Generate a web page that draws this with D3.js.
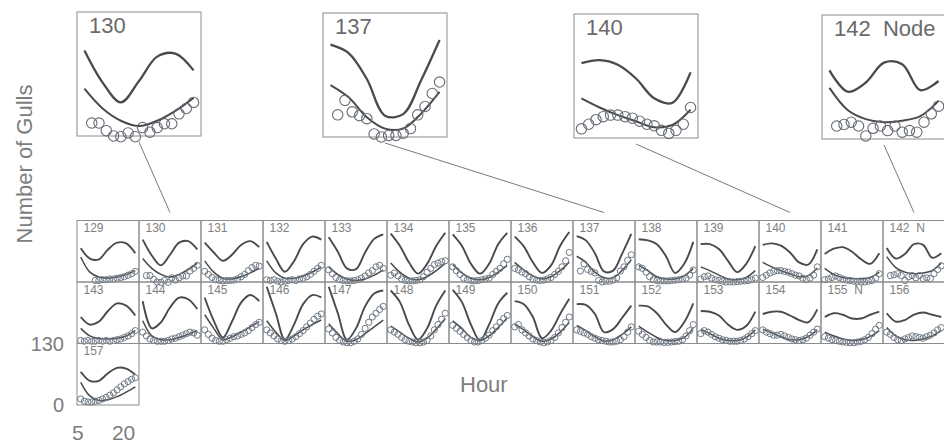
<!DOCTYPE html>
<html>
<head>
<meta charset="utf-8">
<script src="https://cdn.jsdelivr.net/npm/d3@7"></script>
<style>
    body { margin: 0; background: #fff; }
    svg text { font-family: "Liberation Sans", Arial, sans-serif; }
</style>
</head>
<body>
<div id="chart"></div>
<script>

// ---- data ----
const panelIds = [129, 130, 131, 132, 133, 134, 135, 136, 137, 138, 139, 140, 141, 142,
                  143, 144, 145, 146, 147, 148, 149, 150, 151, 152, 153, 154, 155, 156, 157];
const panelLabels = ["129", "130", "131", "132", "133", "134", "135", "136", "137", "138", "139", "140", "141", "142  N",
                     "143", "144", "145", "146", "147", "148", "149", "150", "151", "152", "153", "154", "155  N", "156", "157"];

const curveHours = [5, 7.5, 10, 12.5, 15, 17.5, 20];
const dotHours = [5, 6, 7, 8, 9, 10, 11, 12, 13, 14, 15, 16, 17, 18, 19, 20];

// thick upper curve
const upperCurves = [
    [89, 62, 60, 86, 104, 102, 76],
    [112, 70, 44, 72, 104, 108, 86],
    [104, 78, 56, 72, 98, 108, 92],
    [106, 62, 27, 55, 100, 120, 112],
    [118, 80, 36, 34, 78, 114, 126],
    [128, 96, 52, 22, 48, 95, 130],
    [126, 96, 48, 22, 48, 100, 130],
    [120, 94, 52, 24, 44, 96, 132],
    [121, 110, 76, 28, 30, 75, 127],
    [113, 110, 100, 68, 24, 48, 106],
    [100, 100, 87, 56, 26, 48, 95],
    [98, 102, 96, 78, 52, 46, 86],
    [74, 88, 92, 80, 60, 48, 76],
    [90, 62, 74, 100, 98, 64, 76],
    [70, 50, 58, 86, 106, 100, 74],
    [112, 40, 56, 95, 121, 117, 91],
    [121, 60, 16, 58, 108, 128, 112],
    [150, 80, 10, 50, 104, 128, 122],
    [150, 80, 10, 40, 98, 132, 140],
    [140, 110, 50, 10, 40, 100, 140],
    [142, 110, 50, 8, 50, 106, 134],
    [112, 104, 70, 14, 34, 78, 118],
    [104, 102, 78, 30, 38, 68, 100],
    [100, 98, 80, 50, 30, 56, 106],
    [86, 84, 74, 50, 36, 46, 84],
    [78, 84, 84, 74, 62, 56, 90],
    [70, 80, 76, 66, 66, 76, 84],
    [80, 58, 62, 76, 82, 76, 70],
    [88, 64, 64, 84, 98, 96, 80]
];

// lower curve
const lowerCurves = [
    [66, 26, 13, 10, 13, 20, 30],
    [62, 36, 20, 13, 20, 33, 50],
    [56, 26, 10, 8, 14, 24, 36],
    [56, 24, 10, 10, 16, 26, 40],
    [40, 20, 8, 4, 8, 18, 32],
    [50, 26, 10, 6, 14, 30, 50],
    [46, 24, 10, 6, 12, 26, 44],
    [52, 32, 16, 8, 14, 30, 52],
    [68, 52, 26, 11, 11, 31, 59],
    [44, 30, 14, 8, 8, 16, 36],
    [40, 30, 18, 8, 6, 12, 30],
    [52, 40, 30, 22, 14, 17, 37],
    [36, 20, 12, 9, 9, 12, 26],
    [67, 38, 26, 22, 24, 30, 50],
    [40, 20, 13, 12, 14, 20, 34],
    [60, 20, 10, 10, 16, 24, 34],
    [76, 40, 10, 18, 30, 44, 58],
    [60, 30, 8, 20, 36, 50, 62],
    [52, 26, 6, 10, 26, 44, 62],
    [46, 30, 14, 4, 14, 38, 66],
    [60, 40, 16, 8, 20, 42, 68],
    [52, 36, 18, 6, 12, 30, 56],
    [48, 34, 18, 6, 10, 24, 44],
    [46, 30, 16, 8, 8, 16, 40],
    [38, 26, 14, 8, 8, 16, 36],
    [38, 28, 18, 10, 10, 18, 36],
    [30, 20, 12, 8, 10, 18, 34],
    [42, 20, 10, 8, 12, 20, 34],
    [60, 24, 12, 14, 22, 34, 48]
];

// observed gull counts (circles), one per hour, null = no circle
const gullCounts = [
    [null, null, null, null, 4, 4, 6, 6, 8, 8, 10, 12, 14, 18, 22, 28],
    [null, 17, 17, 7, 0, -1, 4, -1, 11, 5, 11, 16, 16, 29, 36, 44],
    [28, 20, 12, 6, 4, 3, 4, 4, 5, 8, 14, 20, 30, 38, 44, 42],
    [6, 4, 6, 2, 0, 2, 4, 6, 4, 8, 10, 14, 20, 28, 36, 44],
    [32, 22, 12, 6, 4, 3, 3, 4, 6, 10, 16, 24, 30, 40, 44, 36],
    [18, 24, 16, 8, 4, 3, 3, 4, 6, 14, 26, 36, 46, 50, 54, 56],
    [40, 30, 20, 10, 6, 4, 3, 4, 6, 8, 10, 20, 28, 36, 48, 60],
    [36, 32, 26, 22, 14, 8, 5, 4, 5, 8, 12, 20, 28, 40, 56, 78],
    [null, 29, 48, 33, 28, 24, 4, 0, 2, 2, 5, 11, 29, 40, 57, 72],
    [40, 36, 26, 14, 6, 4, 3, 3, 3, 4, 5, 6, 8, 10, 18, 32],
    [8, 14, 16, 10, 6, 4, 2, 0, 0, 0, 1, 2, 3, 4, 6, 10],
    [12, 18, 24, 28, 30, 30, 28, 26, 22, 18, 16, 10, 6, 10, 18, 40],
    [6, 8, 12, 16, 12, 8, 5, 4, 2, 1, 0, 0, 2, 4, 10, 22],
    [null, 17, 19, 22, 17, 4, 14, 17, 11, 17, 9, 11, 9, 22, 33, 43],
    [8, 6, 8, 6, 6, 8, 6, 8, 6, 8, 10, 12, 16, 20, 26, 34],
    [30, 20, 12, 8, 6, 6, 6, 8, 12, 14, 18, 22, 26, 30, 28, 22],
    [36, 24, 14, 8, 6, 6, 10, 14, 18, 20, 24, 28, 34, 42, 50, 56],
    [36, 28, 20, 12, 8, 6, 8, 12, 18, 26, 34, 44, 54, 64, 72, 78],
    [38, 28, 16, 8, 4, 2, 2, 6, 12, 24, 40, 56, 70, 80, 90, 98],
    [36, 30, 24, 16, 10, 6, 4, 2, 2, 4, 8, 20, 36, 50, 64, 80],
    [48, 40, 32, 24, 16, 8, 4, 4, 8, 14, 22, 34, 44, 56, 66, 74],
    [44, 50, 36, 28, 20, 12, 8, 4, 2, 4, 8, 16, 28, 42, 56, 70],
    [36, 32, 28, 24, 18, 14, 10, 8, 6, 4, 4, 6, 10, 18, 30, 44],
    [32, 24, 16, 8, 4, 4, 4, 3, 3, 4, 5, 6, 10, 20, 34, 50],
    [26, 34, 30, 24, 18, 14, 10, 8, 6, 6, 6, 8, 12, 18, 26, 34],
    [36, 30, 26, 22, 22, 24, 20, 16, 12, 10, 8, 10, 14, 22, 30, 38],
    [18, 14, 10, 8, 6, 4, 3, 2, 2, 4, 6, 10, 16, 26, 38, 48],
    [30, 24, 16, 10, 8, 12, 16, 20, 18, 16, 14, 18, 22, 28, 36, 42],
    [16, 10, 8, 8, 10, 12, 16, 20, 26, 32, 40, 48, 56, 62, 68, 72]
];

// enlarged panels
const insetIds = [130, 137, 140, 142];
const insetLabels = ["130", "137", "140", "142  Node"];

// axis tick labels (shown on the last panel only)
const hourTicks = [5, 20];
const countTicks = [0, 130];


class GullTrellis {

    constructor(_parentElement) {
        this.parentElement = _parentElement;
        this.initVis();
    }

    initVis() {
        let vis = this;

        vis.width = 944;
        vis.height = 443;

        vis.svg = d3.select("#" + vis.parentElement).append("svg")
            .attr("width", vis.width)
            .attr("height", vis.height);

        // grid of small panels
        vis.col = d3.scaleBand().domain(d3.range(14)).range([77, 945]);
        vis.row = d3.scaleBand().domain(d3.range(3)).range([220.5, 405]);

        // where the four enlarged panels sit
        vis.insetX = [77, 323, 574, 822];
        vis.insetY = [12, 13, 14, 15];
        vis.insetSize = 124;

        vis.lineColor = "#4a4a4a";
        vis.textColor = "#7d7d7d";

        vis.drawGrid();
        vis.drawInsets();
        vis.drawAxisText();
    }

    drawPanel(g, i, w, h, big) {
        let vis = this;

        let x = d3.scaleLinear().domain([5, 20]).range([0.06 * w, w - 0.06 * w]);
        let y = d3.scaleLinear().domain([0, 130]).range([h, 0.2 * h]);

        let line = d3.line()
            .x(d => x(d[0]))
            .y(d => y(d[1]))
            .curve(d3.curveCatmullRom.alpha(0.5));

        g.append("rect")
            .attr("width", w)
            .attr("height", h)
            .attr("fill", "none")
            .attr("stroke", "#8c8c8c")
            .attr("stroke-width", 1);

        g.append("text")
            .attr("x", big ? 12 : 6.5)
            .attr("y", big ? 21 : 11.5)
            .style("white-space", "pre")
            .style("font-size", big ? "22px" : "12px")
            .attr("fill", big ? "#6a6a6a" : "#808080")
            .text(big ? insetLabels[insetIds.indexOf(panelIds[i])] : panelLabels[i]);

        g.append("path")
            .datum(curveHours.map((hr, k) => [hr, upperCurves[i][k]]))
            .attr("d", line)
            .attr("fill", "none")
            .attr("stroke", vis.lineColor)
            .attr("stroke-width", big ? 2.3 : 1.9);

        g.append("path")
            .datum(curveHours.map((hr, k) => [hr, lowerCurves[i][k]]))
            .attr("d", line)
            .attr("fill", "none")
            .attr("stroke", vis.lineColor)
            .attr("stroke-width", big ? 2.0 : 1.5);

        let dots = dotHours.map((hr, k) => [hr, gullCounts[i][k]]).filter(d => d[1] !== null);

        g.selectAll(".dot")
            .data(dots)
            .enter().append("circle")
            .attr("class", "dot")
            .attr("cx", d => x(d[0]))
            .attr("cy", d => y(d[1]))
            .attr("r", big ? 5.2 : 3.1)
            .attr("fill", "none")
            .attr("stroke", big ? "#666c74" : "#6e7986")
            .attr("stroke-width", big ? 1.1 : 1);

        return { x: x, y: y };
    }

    drawGrid() {
        let vis = this;

        panelIds.forEach((id, i) => {
            let g = vis.svg.append("g")
                .attr("transform", "translate(" + vis.col(i % 14) + "," + vis.row(Math.floor(i / 14)) + ")");
            let s = vis.drawPanel(g, i, vis.col.bandwidth(), vis.row.bandwidth(), false);
            if (i === panelIds.length - 1) vis.lastPanel = { g: g, scales: s };
        });
    }

    drawInsets() {
        let vis = this;

        insetIds.forEach((id, k) => {
            let i = panelIds.indexOf(id);
            let g = vis.svg.append("g")
                .attr("transform", "translate(" + vis.insetX[k] + "," + vis.insetY[k] + ")");
            vis.drawPanel(g, i, vis.insetSize, vis.insetSize, true);

            // connector from enlarged panel down to its small panel
            let cx = vis.col(i % 14) + vis.col.bandwidth() / 2;
            vis.svg.append("line")
                .attr("x1", vis.insetX[k] + vis.insetSize / 2)
                .attr("y1", vis.insetY[k] + vis.insetSize + 6)
                .attr("x2", cx)
                .attr("y2", vis.row(0) - 8)
                .attr("stroke", "#7a7a7a")
                .attr("stroke-width", 1);
        });
    }

    drawAxisText() {
        let vis = this;
        let g = vis.lastPanel.g;
        let h = vis.row.bandwidth();

        // count labels sit at the top / bottom edge of the last panel
        let countLabel = d3.scaleLinear().domain([0, 130]).range([h, 0]);

        g.selectAll(".count-tick")
            .data(countTicks)
            .enter().append("text")
            .attr("class", "count-tick")
            .attr("x", -13)
            .attr("y", d => countLabel(d))
            .attr("dy", "0.35em")
            .attr("text-anchor", "end")
            .style("font-size", "20px")
            .attr("fill", vis.textColor)
            .text(d => d);

        g.selectAll(".hour-tick")
            .data(hourTicks)
            .enter().append("text")
            .attr("class", "hour-tick")
            .attr("x", (d, k) => vis.lastPanel.scales.x(d) - (k === 0 ? 3 : 0))
            .attr("y", h + 35)
            .attr("text-anchor", (d, k) => k === 0 ? "middle" : "end")
            .style("font-size", "21px")
            .attr("fill", vis.textColor)
            .text(d => d);

        vis.svg.append("text")
            .attr("x", 460)
            .attr("y", 392)
            .style("font-size", "22px")
            .attr("fill", vis.textColor)
            .text("Hour");

        vis.svg.append("text")
            .attr("transform", "translate(32,164) rotate(-90)")
            .attr("text-anchor", "middle")
            .style("font-size", "22px")
            .attr("fill", vis.textColor)
            .text("Number of Gulls");
    }
}

new GullTrellis("chart");

</script>
</body>
</html>
